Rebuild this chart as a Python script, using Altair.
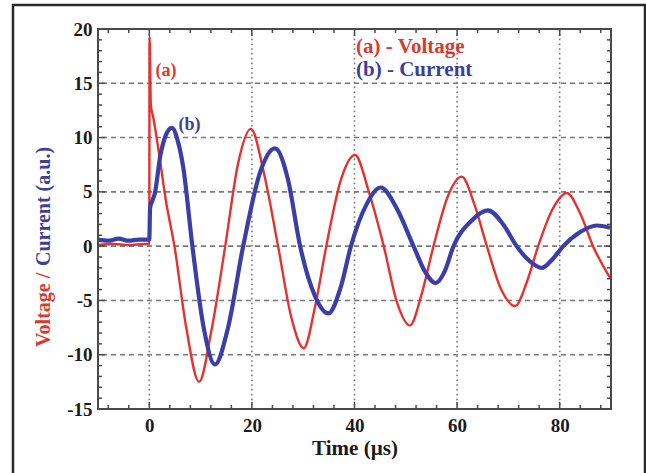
import altair as alt
import pandas as pd

# ---- data ----
red_t = [-10, -7, -4, -1, 0, 0.05, 0.3, 0.8, 2.0, 3.2, 4.9, 7.2, 9.7, 12.1, 14.8, 17.3, 19.8,
         22.4, 25.1, 27.7, 30.1, 32.3, 34.5, 37.4, 40.1, 42.8, 45.7, 48.3, 50.8, 53.1, 55.4,
         58.2, 60.9, 63.4, 65.8, 68.6, 71.3, 73.6, 75.8, 78.6, 81.4, 84.0, 86.5, 89.8]
red_v = [0.1, 0.2, 0.1, 0.2, 0.2, 19.3, 13.0, 11.8, 8.2, 4.3, 0.0, -7.5, -12.5, -7.8, 0.0, 7.6, 10.8,
         6.6, 0.0, -6.6, -9.4, -5.6, 0.0, 6.2, 8.4, 5.0, 0.0, -5.2, -7.3, -4.4, 0.0,
         4.6, 6.4, 3.8, 0.0, -4.0, -5.5, -3.3, 0.0, 3.4, 4.9, 3.0, 0.0, -2.9]

blue_t = [-10, -8, -6, -4, -2, 0, 0.15, 0.6, 1.1, 2.1, 3.2, 4.4, 5.6, 6.6, 8.4, 10.6, 12.8,
          15.3, 18.3, 21.6, 24.5, 27.0, 29.4, 32.3, 34.9, 37.3, 39.3, 42.3, 45.1, 48.2, 51.5,
          53.8, 55.8, 57.6, 59.3, 62.7, 66.0, 69.0, 71.6, 74.2, 76.5, 78.6, 80.7, 84.0, 87.2, 89.8]
blue_v = [0.6, 0.5, 0.7, 0.5, 0.6, 0.6, 3.5, 4.2, 4.9, 8.2, 10.2, 10.9, 9.6, 7.3, 0.0, -7.5, -10.9,
          -7.6, 0.0, 6.8, 9.0, 6.2, 0.0, -4.6, -6.2, -3.8, 0.0, 3.8, 5.4, 3.5, 0.0,
          -2.4, -3.4, -2.3, 0.0, 2.3, 3.3, 2.0, 0.0, -1.4, -2.0, -1.2, 0.0, 1.3, 1.9, 1.7]

x_labels = [0, 20, 40, 60, 80]
y_labels = [-15, -10, -5, 0, 5, 10, 15, 20]
x_grid = [0, 20, 40, 60, 80]
y_grid = [-10, -5, 0, 5, 10, 15]
x_ticks = [-8, -4, 0, 4, 8, 12, 16, 20, 24, 28, 32, 36, 40, 44, 48, 52, 56, 60, 64, 68, 72, 76, 80, 84, 88]
y_ticks = list(range(-14, 20))

notes = ["(a)", "(b)", "(a) - Voltage", "(b) - Current"]
notes_t = [1.2, 5.7, 40.3, 40.3]
notes_v = [16.1, 11.2, 18.3, 16.2]
notes_c = ["red", "blue", "red", "blue"]

RED = "#e5322d"
BLUE = "#3a3ea6"
RED_T = "#d93a2f"
BLUE_T = "#3d3f99"
FONT = "Liberation Serif"

xs = alt.Scale(domain=[-10, 90], nice=False, zero=False)
ys = alt.Scale(domain=[-15, 20], nice=False, zero=False)

red_df = pd.DataFrame({"t": red_t, "v": red_v})
blue_df = pd.DataFrame({"t": blue_t, "v": blue_v})

xgrid = alt.Chart(pd.DataFrame({"g": x_grid})).mark_rule(
    color="#7a7a7a", strokeWidth=1.6, strokeDash=[1.6, 3.2]
).encode(x=alt.X("g:Q", scale=xs))
ygrid = alt.Chart(pd.DataFrame({"g": y_grid})).mark_rule(
    color="#7a7a7a", strokeWidth=1.6, strokeDash=[5, 4]
).encode(y=alt.Y("g:Q", scale=ys))

xt = pd.DataFrame({"p": x_ticks})
yt = pd.DataFrame({"p": y_ticks})

H = 380
W = 513
tick_layers = []
for major in (True, False):
    L = 7 if major else 4
    xsub = xt[(xt["p"] % 20 == 0) == major]
    ysub = yt[(yt["p"] % 5 == 0) == major]
    tick_layers.append(alt.Chart(xsub).mark_rule(color="#4a4a4a", strokeWidth=1.5).encode(
        x=alt.X("p:Q", scale=xs), y=alt.value(H), y2=alt.value(H - L)))
    tick_layers.append(alt.Chart(xsub).mark_rule(color="#4a4a4a", strokeWidth=1.5).encode(
        x=alt.X("p:Q", scale=xs), y=alt.value(0), y2=alt.value(L)))
    tick_layers.append(alt.Chart(ysub).mark_rule(color="#4a4a4a", strokeWidth=1.5).encode(
        y=alt.Y("p:Q", scale=ys), x=alt.value(0), x2=alt.value(L)))
    tick_layers.append(alt.Chart(ysub).mark_rule(color="#4a4a4a", strokeWidth=1.5).encode(
        y=alt.Y("p:Q", scale=ys), x=alt.value(W), x2=alt.value(W - L)))

red_line = alt.Chart(red_df).mark_line(color=RED, strokeWidth=2.4, interpolate="monotone").encode(
    x=alt.X("t:Q", scale=xs,
            axis=alt.Axis(values=x_labels, grid=False, ticks=False, domain=False,
                          labelExpr="'' + datum.value",
                          labelFont=FONT, labelFontWeight="bold", labelFontSize=19,
                          labelColor="#1a1a1a", labelPadding=7,
                          title="Time (µs)", titleFont=FONT, titleFontWeight="bold",
                          titleFontSize=21, titleColor="#1a1a1a", titlePadding=2)),
    y=alt.Y("v:Q", scale=ys,
            axis=alt.Axis(values=y_labels, grid=False, ticks=False, domain=False,
                          labelExpr="'' + datum.value",
                          labelFont=FONT, labelFontWeight="bold", labelFontSize=19,
                          labelColor="#1a1a1a", labelPadding=6, title=None)),
    order="t:Q",
)
blue_line = alt.Chart(blue_df).mark_line(color=BLUE, strokeWidth=4.2, interpolate="monotone").encode(
    x=alt.X("t:Q", scale=xs), y=alt.Y("v:Q", scale=ys), order="t:Q")

nd = pd.DataFrame({"txt": notes, "t": notes_t, "v": notes_v, "c": notes_c})
cscale = alt.Scale(domain=["red", "blue"], range=[RED_T, BLUE_T])
note_small = alt.Chart(nd.iloc[:2]).mark_text(
    font=FONT, fontWeight="bold", fontSize=18, align="left", baseline="middle"
).encode(x=alt.X("t:Q", scale=xs), y=alt.Y("v:Q", scale=ys), text="txt:N",
         color=alt.Color("c:N", scale=cscale, legend=None))
note_big = alt.Chart(nd.iloc[2:]).mark_text(
    font=FONT, fontWeight="bold", fontSize=21, align="left", baseline="middle"
).encode(x=alt.X("t:Q", scale=xs), y=alt.Y("v:Q", scale=ys), text="txt:N",
         color=alt.Color("c:N", scale=cscale, legend=None))

ytitle_red = alt.Chart(pd.DataFrame({"s": ["Voltage /"]})).mark_text(
    font=FONT, fontWeight="bold", fontSize=20, angle=270, align="left", baseline="middle", color=RED_T
).encode(text="s:N", x=alt.value(-54), y=alt.value(318))
ytitle_blue = alt.Chart(pd.DataFrame({"s": ["Current (a.u.)"]})).mark_text(
    font=FONT, fontWeight="bold", fontSize=20, angle=270, align="left", baseline="middle", color=BLUE_T
).encode(text="s:N", x=alt.value(-54), y=alt.value(237))

frame = alt.Chart(pd.DataFrame({"a": [0]})).mark_rect(
    fill=None, stroke="#4a4a4a", strokeWidth=2
).encode(x=alt.datum(-10, scale=xs), x2=alt.datum(90), y=alt.datum(-15, scale=ys), y2=alt.datum(20))

outer = alt.Chart(pd.DataFrame({"a": [0]})).mark_rect(
    fill=None, stroke="#2a2a2a", strokeWidth=2.5
).encode(x=alt.value(-85), x2=alt.value(547), y=alt.value(-24), y2=alt.value(452))

chart = alt.layer(
    xgrid, ygrid, red_line, blue_line, *tick_layers, frame, note_small, note_big,
    ytitle_red, ytitle_blue, outer
).properties(
    width=W, height=H,
    autosize=alt.AutoSizeParams(type="none"),
    padding={"left": 98, "top": 29, "right": 35, "bottom": 64},
    background="white",
).configure_view(stroke=None)

chart.save("out.html", embed_options={"renderer": "svg", "actions": False})
